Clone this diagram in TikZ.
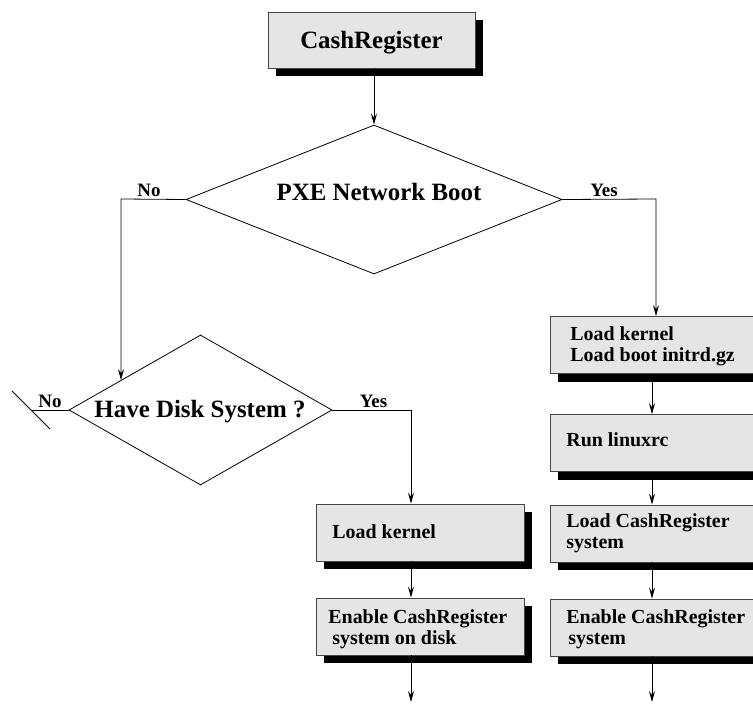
\documentclass[tikz,border=0pt]{standalone}
\usepackage{fontspec}
\setmainfont{Liberation Serif}
\usetikzlibrary{shapes.geometric,arrows.meta,shadows,calc}
\definecolor{boxfill}{RGB}{229,229,229}
\definecolor{boxline}{RGB}{70,70,70}

\begin{document}
\begin{tikzpicture}[x=1bp,y=-1bp,line width=0.8bp,
  stepbox/.style={rectangle, draw=boxline, line width=0.8bp, fill=boxfill,
    minimum width=208bp, minimum height=57bp, inner sep=0pt,
    drop shadow={shadow xshift=8bp, shadow yshift=-8bp, opacity=1, fill=black}},
  decision/.style={diamond, draw=black, line width=0.8bp, inner sep=0pt, aspect=2.5},
  bigtxt/.style={inner sep=0pt, font=\fontsize{25}{30}\selectfont\bfseries},
  boxtxt/.style={inner sep=0pt, align=left, font=\fontsize{20}{21.5}\selectfont\bfseries},
  lbl/.style={inner sep=0pt, font=\fontsize{19}{22}\selectfont\bfseries},
  arr/.style={-{Stealth[length=11bp,width=6bp,inset=4bp]}}]

\useasboundingbox (0,0) rectangle (753,708);
\clip (0,0) rectangle (753,708);

% start box
\node[stepbox, minimum width=207bp, minimum height=56bp, text height=17bp, text depth=0pt,
      font=\fontsize{25}{30}\selectfont\bfseries] (cr) at (371.5,40) {CashRegister};

% decisions
\node[decision, minimum width=376bp, minimum height=149bp] (pxe) at (374,199.5) {};
\node[bigtxt, anchor=base] (pxetxt) at (379,200) {PXE Network Boot};
\node[decision, minimum width=263bp, minimum height=150bp] (hd) at (200.5,410) {};
\node[bigtxt, anchor=base] (hdtxt) at (200,417) {Have Disk System ?};

% disk branch
\node[stepbox] (lk) at (420,532.5) {};
\node[stepbox] (le) at (420,626.5) {};
\node[boxtxt, anchor=west] (lkt) at (332,532) {Load kernel};
\node[boxtxt, anchor=west] (let) at (328,629) {Enable CashRegister\\\hspace*{4bp}system on disk};

% network branch
\node[stepbox] (rk) at (654,345) {};
\node[stepbox] (rr) at (654,443) {};
\node[stepbox] (rl) at (654,533.5) {};
\node[stepbox] (re) at (654,627.5) {};
\node[boxtxt, anchor=west] (rkt) at (570,346.5) {Load kernel\\Load boot initrd.gz};
\node[boxtxt, anchor=west] (rrt) at (566,440) {Run linuxrc};
\node[boxtxt, anchor=west] (rlt) at (566,533.5) {Load CashRegister\\system};
\node[boxtxt, anchor=west] (ret) at (566,629.5) {Enable CashRegister\\\hspace*{2bp}system};

% helper coordinates
\coordinate (nocorner) at (121,199);
\coordinate (noground) at (121,500);
\coordinate (noend) at (intersection of nocorner--noground and hd.west--hd.north);
\coordinate (yescorner) at (656,199);
\coordinate (hdyes) at (411,410);
\coordinate (lx) at (411,0);
\coordinate (rx) at (652,0);
\coordinate (lend) at (411,702);
\coordinate (rend) at (652,702);
\coordinate (cut) at (31,410);

% connectors
\draw[arr] (pxe.north |- cr.south) -- (pxe.north);
\draw[arr] (pxe.west) -- (nocorner) -- (noend);
\draw[arr] (pxe.east) -- (yescorner) -- (yescorner |- rk.north);
\draw[arr] (hd.east) -- (hdyes) -- (hdyes |- lk.north);
\draw (hd.west) -- (cut);
\draw (cut) ++(-19,-19) -- ++(38,38);

\draw[arr] (lx |- lk.south) -- (lx |- le.north);
\draw[arr] (lx |- le.south) -- (lend);

\draw[arr] (rx |- rk.south) -- (rx |- rr.north);
\draw[arr] (rx |- rr.south) -- (rx |- rl.north);
\draw[arr] (rx |- rl.south) -- (rx |- re.north);
\draw[arr] (rx |- re.south) -- (rend);

% branch labels
\node[lbl, anchor=base] (no1) at (149,196) {No};
\node[lbl, anchor=base] (yes1) at (604,196) {Yes};
\node[lbl, anchor=base] (no2) at (50,407) {No};
\node[lbl, anchor=base] (yes2) at (373.5,407) {Yes};

\end{tikzpicture}
\end{document}
